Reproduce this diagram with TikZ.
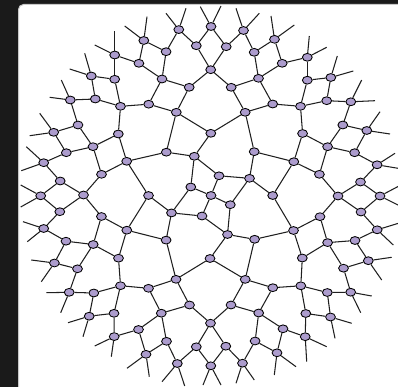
\documentclass[tikz,border=0pt]{standalone}
\usetikzlibrary{shapes.geometric}
\definecolor{vfill}{RGB}{172,156,205}
\definecolor{bgdark}{RGB}{26,26,26}
\definecolor{panelborder}{RGB}{200,200,200}
\pgfdeclarelayer{back}
\pgfdeclarelayer{edges}
\pgfsetlayers{back,edges,main}
\tikzset{
  vtx/.style={ellipse,draw=black,line width=0.85pt,fill=vfill,minimum width=9.8pt,minimum height=7.8pt,inner sep=0pt},
  edge/.style={draw=black!88,line width=1.05pt}
}
\begin{document}
\begin{tikzpicture}[x=1pt,y=-1pt]
\useasboundingbox (0,0) rectangle (398,387);
\begin{pgfonlayer}{back}
\fill[bgdark] (0,0) rectangle (398,387);
\draw[panelborder,fill=white,line width=1pt,rounded corners=5pt] (18.5,4.5) rectangle (440,440);
\end{pgfonlayer}
\foreach \n/\x/\y in {1/114.7/55, 2/91.3/76, 3/114.7/79.3, 4/70.3/100, 5/95.3/99, 6/120.5/106.3, 7/78/125, 8/53.7/132.3, 9/93/146.7, 10/118.3/134, 11/66.3/152.7, 12/43.7/162.7, 13/101.5/174.3, 14/60.2/181, 15/83.5/195, 16/40.7/195.8, 17/178.8/29.6, 18/143.8/40.5, 19/166.1/51.7, 20/138.9/63.3, 21/162/79, 22/196.3/45.7, 23/189.2/87.3, 24/148.7/104.2, 25/176.3/112.3, 26/210.7/69.7, 27/126.7/161.3, 28/166.3/152.2, 29/194.3/156.3, 30/210.8/133.3, 31/190.8/187, 32/148.5/195.5, 33/211/26.5, 34/243.5/30.5, 35/226.2/46.7, 36/254.2/52.3, 37/274.5/39.3, 38/282.2/63.3, 39/258.5/78.3, 40/231.2/87.3, 41/245.2/112.3, 42/272.7/104, 43/300.5/106.3, 44/254.2/151.7, 45/293.8/161.7, 46/302.6/133.5, 47/219/175.8, 48/249.5/178.3, 49/211/195.5, 50/272.7/195.5, 51/307.3/57.3, 52/307.3/80.2, 53/330.8/77.5, 54/326.7/100.7, 55/350.8/101.8, 56/342.8/125, 58/366.8/130.5, 59/327.6/146.7, 60/354.6/152.7, 61/377.1/164.8, 62/319.4/174.3, 63/360.5/182, 64/338/196, 65/380/196, 66/59.8/211.7, 67/101.4/216.5, 68/43.7/228.5, 69/66/241.2, 70/93.2/244.5, 71/54.4/263, 72/77.5/268.8, 74/69.2/292.3, 75/93.8/293, 76/120.5/285.7, 77/89.2/316.2, 78/114/313.3, 79/114.2/336.6, 80/171.5/212.9, 81/202/216, 82/126.8/230.2, 83/166.1/240.1, 84/210/258.5, 85/118.5/258.2, 86/176/279.3, 87/148.5/288.3, 88/189.5/305, 89/161.3/313.2, 90/210.5/323.2, 91/138.5/329.5, 92/166.5/341.3, 93/146/354.3, 94/196.3/346.8, 95/177.3/363.5, 96/230.3/204.7, 97/227.5/234.5, 98/254.6/239.3, 99/293.5/230.5, 100/302.3/258, 101/245.2/279.4, 102/272.8/287.7, 103/300.8/285.8, 104/231/305, 105/258.7/313, 106/305.8/313.5, 107/283/328.8, 108/305.2/336.7, 109/255.1/341, 110/225.8/346.2, 111/277/352.8, 112/210.8/365.8, 113/242.5/363.2, 114/320/216.7, 115/361/212, 116/377.2/229.8, 117/327.6/242.6, 118/355/240.5, 119/368.3/260.7, 120/343.5/268.2, 121/327.3/292.5, 122/350.7/292.2, 124/330.5/317}
  \node[vtx] (n\n) at (\x,\y) {};
\begin{pgfonlayer}{edges}
% outer chain
\foreach \a/\b in {1/20, 20/18, 18/19, 19/17, 17/22, 22/33, 33/35, 35/34, 34/36, 36/37, 37/38, 38/51, 51/52, 52/53, 53/54, 54/55, 55/56, 56/58, 58/60, 60/61, 61/63, 63/65, 65/115, 115/116, 116/118, 118/119, 119/120, 120/122, 122/121, 121/124, 124/106, 106/108, 108/107, 107/111, 111/109, 109/113, 113/110, 110/112, 112/94, 94/95, 95/92, 92/93, 93/91, 91/79, 79/78, 78/77, 77/75, 75/74, 74/72, 72/71, 71/69, 69/68, 68/66, 66/16, 16/14, 14/12, 12/11, 11/8, 8/7, 7/4, 4/5, 5/2, 2/3, 3/1}
  \draw[edge] (n\a) -- (n\b);
% chain to second ring
\foreach \a/\b in {20/21, 19/21, 22/26, 35/26, 36/39, 38/39, 52/43, 54/43, 56/59, 60/59, 63/64, 115/64, 118/117, 120/117, 121/103, 106/103, 107/105, 109/105, 110/90, 94/90, 92/89, 91/89, 78/76, 75/76, 72/70, 69/70, 66/15, 14/15, 11/9, 7/9, 5/6, 3/6}
  \draw[edge] (n\a) -- (n\b);
% second ring
\foreach \a/\b in {21/23, 21/24, 26/23, 26/40, 39/40, 39/42, 43/42, 43/46, 59/46, 59/62, 64/62, 64/114, 117/114, 117/100, 103/100, 103/102, 105/102, 105/104, 90/104, 90/88, 89/88, 89/87, 76/87, 76/85, 70/85, 70/67, 15/67, 15/13, 9/13, 9/10, 6/10, 6/24}
  \draw[edge] (n\a) -- (n\b);
% third ring
\foreach \a/\b in {23/25, 24/25, 40/41, 42/41, 46/45, 62/45, 114/99, 100/99, 102/101, 104/101, 88/86, 87/86, 85/82, 67/82, 13/27, 10/27, 25/28, 25/30, 41/30, 41/44, 45/44, 45/50, 99/50, 99/98, 101/98, 101/84, 86/84, 86/83, 82/83, 82/32, 27/32, 27/28}
  \draw[edge] (n\a) -- (n\b);
% inner rings
\foreach \a/\b in {28/29, 30/29, 44/48, 50/48, 98/97, 84/97, 83/80, 32/80, 29/47, 29/31, 48/47, 48/96, 97/96, 97/81, 80/81, 80/31, 47/49, 96/49, 81/49, 31/49}
  \draw[edge] (n\a) -- (n\b);
% pendant edges
\foreach \n/\ax/\ay/\bx/\by in {1/114.7/31.5/94.7/45, 2/84.7/53.3/69.7/69, 4/61.3/80/49.7/97.3, 8/39.7/113.3/29.7/135.7, 12/26.3/146.7/21.3/170.7, 16/20.7/185/20.7/207, 68/23/221.7/27.3/241.7, 71/31.3/260/41.3/281.7, 74/46.3/292.7/60.7/312.7, 77/68/322.7/83/336.7, 79/94.7/346/111.3/356.7, 93/127/368.3/149.3/376.7, 95/162/381.7/184.7/386, 112/203/385/221/385, 113/236/383.3/254.3/380, 111/274.3/375/296/366.7, 108/306.7/361.7/326.7/346.7, 124/351.7/323.3/335/338.3, 122/371.7/296/360.7/312.7, 119/391.7/257.3/381.7/280, 116/398.3/223.3/393.3/245, 65/399/186/400/206, 61/395/153.3/398/168.3, 58/380/111.7/390/134, 55/361.7/80/375/100.7, 53/337.3/56/353.3/71, 51/309.3/36/326.7/47.3, 37/271/16/294.3/25, 34/236/8.3/259.3/13.3, 33/200.3/6.7/221/6, 17/166/13.3/186/8.3, 18/147/16.7/124.7/26}
{
  \coordinate (l\n a) at (\ax,\ay);
  \coordinate (l\n b) at (\bx,\by);
  \draw[edge] (n\n) -- (l\n a);
  \draw[edge] (n\n) -- (l\n b);
}
\end{pgfonlayer}
\end{tikzpicture}
\end{document}
